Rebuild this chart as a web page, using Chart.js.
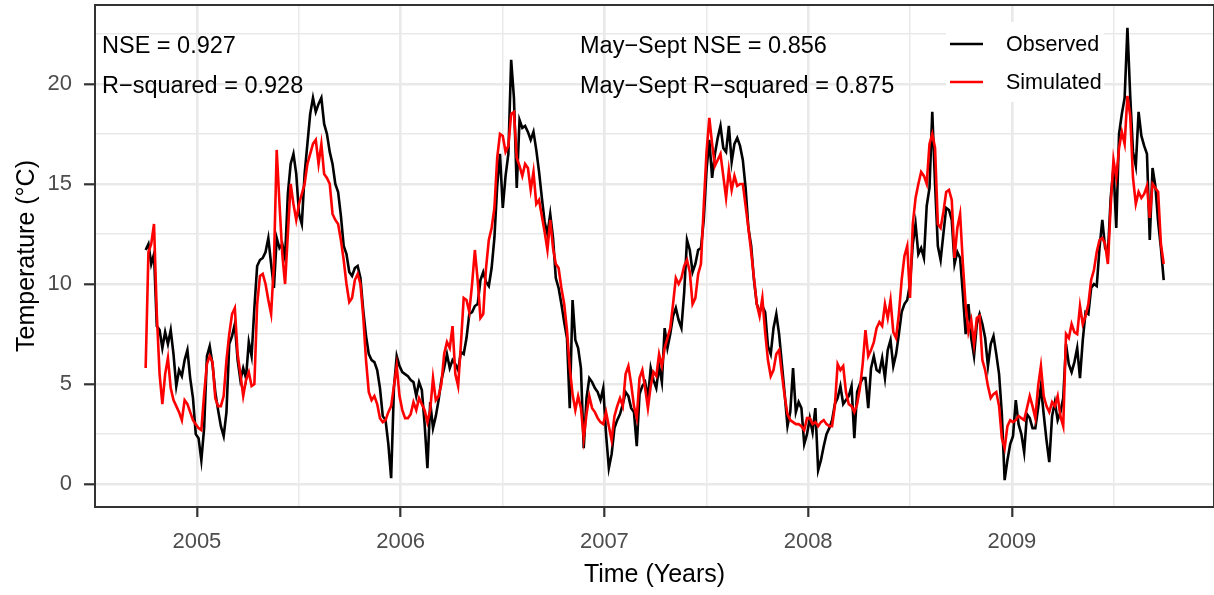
<!DOCTYPE html>
<html lang="en">
<head>
<meta charset="UTF-8">
<title>Observed vs simulated water temperature</title>
<style>
  html, body { margin: 0; padding: 0; background: #fff; }
</style>
</head>
<body>
<canvas id="chart" width="1214" height="595"></canvas>

<script src="https://cdn.jsdelivr.net/npm/chart.js"></script>
<script>
// one value every 5 days, 1 Oct 2004 .. 30 Sep 2009
const startDate = Date.UTC(2004, 9, 1);
const stepDays = 5;

const observed = [
  11.7, 12.0, 11.0, 11.5, 7.9, 7.7, 6.8, 7.6, 7.0, 7.7,
  6.5, 4.9, 5.7, 5.4, 6.2, 6.7, 5.3, 4.3, 2.5, 2.3,
  1.2, 2.8, 6.4, 6.9, 6.0, 4.6, 3.7, 2.9, 2.4, 3.6,
  7.0, 7.4, 8.0, 6.2, 5.2, 5.8, 5.3, 7.1, 6.4, 8.8,
  10.9, 11.2, 11.3, 11.6, 12.3, 11.0, 9.8, 12.3, 11.8, 12.0,
  11.3, 14.5, 16.0, 16.5, 15.5, 13.5, 13.0, 15.5, 17.0, 18.5,
  19.3, 18.6, 19.0, 19.3, 18.0, 17.5, 16.6, 16.0, 15.0, 14.6,
  13.4, 11.9, 11.5, 10.6, 10.4, 10.8, 10.9, 10.3, 8.7, 7.4,
  6.5, 6.2, 6.1, 5.7, 4.8, 3.4, 3.2, 2.0, 0.3, 4.8,
  6.4, 5.9, 5.6, 5.5, 5.4, 5.2, 5.1, 4.4, 5.1, 4.7,
  3.0, 0.8, 4.1, 2.8, 3.4, 4.2, 5.2, 5.8, 6.5, 5.8,
  6.2, 6.0, 5.7, 6.6, 6.5, 7.3, 8.5, 8.6, 8.9, 9.0,
  10.2, 10.6, 10.1, 9.9, 10.8, 12.3, 14.9, 16.5, 13.8, 15.4,
  16.5, 21.2, 19.3, 14.8, 18.2, 17.8, 17.9, 17.6, 17.2, 17.6,
  16.7, 15.6, 14.3, 13.1, 12.5, 13.5, 12.3, 10.3, 9.8, 9.0,
  8.1, 7.3, 3.8, 9.2, 7.2, 6.8, 5.8, 1.8, 4.3, 5.3,
  5.1, 4.8, 4.6, 4.2, 4.8, 2.5, 0.8, 1.5, 2.8, 3.2,
  3.5, 4.0, 4.6, 4.4, 3.8, 3.6, 1.9, 4.5, 4.9, 5.1,
  4.3, 5.8, 5.2, 4.8, 5.9, 5.1, 7.8, 6.8, 7.5, 8.4,
  8.8, 8.2, 7.8, 9.6, 12.2, 11.7, 10.6, 11.0, 11.7, 11.8,
  13.2, 15.7, 17.2, 15.3, 16.5, 17.3, 17.9, 16.8, 16.6, 17.9,
  16.1, 17.0, 17.3, 16.9, 16.2, 14.8, 12.8, 11.9, 10.2, 9.0,
  8.6, 8.9, 8.6, 6.9, 6.5, 7.8, 8.5, 7.5, 6.0, 4.5,
  2.9, 3.6, 5.8, 3.6, 4.1, 3.8, 2.0, 2.5, 3.3, 2.6,
  3.8, 0.7, 1.2, 1.9, 2.5, 2.8, 3.2, 4.0, 4.3, 4.9,
  4.0, 4.2, 4.4, 4.9, 2.3, 4.6, 5.0, 5.3, 5.3, 3.8,
  5.8, 6.4, 5.7, 5.6, 6.3, 5.3, 6.7, 7.2, 5.9, 6.5,
  7.5, 8.6, 9.0, 9.2, 10.0, 12.0, 13.0, 11.5, 11.8, 11.3,
  13.9, 14.8, 18.6, 15.0, 11.9, 11.2, 12.5, 13.8, 13.7, 13.2,
  11.0, 11.6, 11.3, 9.5, 7.5, 9.0, 7.3, 6.4, 8.0, 8.5,
  8.0, 7.3, 5.9, 7.0, 7.4, 6.5, 5.5, 3.5, 0.2, 1.2,
  2.0, 2.4, 4.2, 3.0, 2.5, 1.6, 3.5, 3.3, 2.8, 2.8,
  3.8, 4.9, 3.5, 2.2, 1.1, 3.4, 4.1, 3.2, 3.6, 4.3,
  7.0, 6.0, 5.6, 6.1, 6.8, 5.3, 7.2, 8.6, 8.5, 9.8,
  10.0, 9.9, 11.8, 13.2, 11.8, 11.5, 14.3, 15.8, 12.8, 17.5,
  18.5, 19.3, 22.8, 19.4, 16.6, 15.9, 18.6, 17.4, 16.9, 16.5,
  12.2, 15.8, 14.9, 13.1, 11.8, 10.2
];

const simulated = [
  5.8, 11.6, 12.0, 13.0, 8.5, 5.5, 4.0, 5.5, 6.3, 4.8,
  4.2, 3.9, 3.6, 3.2, 4.2, 4.0, 3.6, 3.2, 3.0, 2.8,
  2.7, 4.5, 6.0, 6.4, 6.1, 4.3, 3.9, 3.9, 4.4, 6.2,
  7.5, 8.5, 8.8, 6.5, 5.5, 4.4, 5.2, 5.6, 4.9, 5.0,
  9.0, 10.4, 10.5, 10.0, 9.2, 8.5, 11.0, 16.7, 14.0, 11.5,
  10.0, 12.5, 15.0, 14.0, 13.2, 14.0, 14.5, 15.0, 16.0, 16.5,
  17.0, 17.2, 16.0, 17.0, 15.5, 15.3, 15.0, 13.5, 13.2, 13.0,
  12.2, 11.2, 10.0, 9.1, 9.3, 10.2, 10.5, 10.0, 8.4, 6.2,
  4.6, 4.2, 4.4, 4.0, 3.3, 3.1, 3.2, 3.6, 3.9, 4.9,
  5.9, 4.4, 3.7, 3.3, 3.3, 3.5, 4.1, 3.7, 4.3, 4.0,
  3.7, 3.1, 3.7, 5.3, 4.2, 4.4, 5.0, 6.5, 7.1, 6.8,
  7.9, 5.5, 4.9, 7.0, 9.3, 9.2, 8.6, 10.0, 11.7, 10.2,
  8.3, 8.5, 10.8, 12.2, 12.8, 13.8, 16.3, 17.5, 17.4, 16.6,
  16.9, 18.5, 18.6, 16.3, 15.9, 15.4, 16.0, 15.8, 14.7, 15.6,
  14.0, 14.2, 13.4, 12.6, 11.7, 13.2, 11.8, 11.0, 10.8, 9.8,
  9.0, 7.7, 5.8, 4.5, 3.7, 4.4, 3.8, 2.3, 3.5, 4.4,
  3.8, 3.6, 3.3, 3.1, 3.0, 3.6, 2.9, 2.2, 3.4, 3.9,
  4.3, 3.9, 5.5, 5.9, 5.0, 3.9, 3.3, 5.3, 5.7, 4.8,
  3.8, 4.9, 5.6, 5.4, 6.5, 5.9, 6.8, 7.3, 7.8, 9.0,
  10.3, 10.0, 10.3, 10.9, 11.2, 10.6, 9.0, 9.3, 10.5, 11.0,
  13.9, 16.6, 18.3, 17.0, 15.9, 16.2, 16.5, 15.4, 14.3, 15.7,
  14.7, 15.4, 14.9, 15.0, 15.0, 13.9, 12.8, 11.6, 10.3, 9.0,
  8.4, 9.3, 7.6, 6.2, 5.4, 5.7, 6.5, 6.7, 5.5, 4.4,
  3.5, 3.2, 3.1, 3.0, 3.0, 2.9, 2.7, 3.3, 3.3, 3.0,
  3.1, 2.9, 3.1, 3.2, 3.0, 2.9, 2.9, 3.9, 6.0, 5.7,
  5.9, 4.6, 4.0, 3.9, 3.6, 4.0, 4.8, 6.0, 7.7, 6.4,
  6.7, 7.1, 7.8, 8.1, 7.9, 9.0, 8.3, 9.2, 7.6, 7.3,
  8.5, 10.2, 11.4, 11.9, 9.3, 13.0, 14.3, 15.0, 15.6, 15.4,
  15.0, 17.0, 17.5, 16.8, 13.0, 12.8, 13.6, 14.6, 14.7, 14.2,
  11.3, 12.8, 13.5, 11.0, 8.9, 7.6, 8.2, 7.0, 8.3, 8.4,
  6.2, 5.7, 4.9, 4.3, 4.5, 4.6, 3.9, 2.3, 1.8, 2.9,
  3.2, 3.1, 3.2, 3.4, 3.3, 3.2, 3.8, 4.4, 3.9, 3.3,
  4.9, 5.9, 4.4, 3.9, 3.6, 4.1, 3.9, 4.4, 3.4, 2.9,
  7.5, 7.3, 8.0, 7.6, 7.5, 8.9, 8.0, 8.4, 9.0, 10.2,
  10.7, 11.6, 12.2, 12.3, 12.0, 11.0, 13.9, 16.2, 15.3, 16.8,
  17.6, 17.0, 19.4, 18.4, 15.3, 14.0, 14.6, 14.3, 14.5, 14.9,
  13.3, 15.0, 14.8, 14.6, 12.0, 11.0
];

const yearTicks = [2005, 2006, 2007, 2008, 2009];
const tempTicks = [0, 5, 10, 15, 20];

const seriesNames = ['Observed', 'Simulated'];
const seriesColors = ['#000000', '#ff0000'];
const statsAll = ['NSE = 0.927', 'R\u2212squared = 0.928'];
const statsSummer = ['May\u2212Sept NSE = 0.856', 'May\u2212Sept R\u2212squared = 0.875'];

const FONT = "'Liberation Sans', Arial, Helvetica, sans-serif";
Chart.defaults.font.family = FONT;

// dates -> decimal years so the axis runs in years
function decimalYear(ms) {
  const y = new Date(ms).getUTCFullYear();
  const a = Date.UTC(y, 0, 1), b = Date.UTC(y + 1, 0, 1);
  return y + (ms - a) / (b - a);
}
const xs = observed.map((_, i) => decimalYear(startDate + i * stepDays * 86400000));

const toPoints = arr => arr.map((v, i) => ({ x: xs[i], y: v }));

const isMajorX = v => Number.isInteger(v);
const isMajorY = v => v % 5 === 0;

// panel box, stats text and the inside legend (ggplot style)
const decorations = {
  id: 'decorations',
  afterDatasetsDraw(chart) {
    const { ctx, chartArea: a } = chart;
    ctx.save();
    ctx.strokeStyle = '#333333';
    ctx.lineWidth = 2;
    ctx.strokeRect(a.left, a.top, a.right - a.left, a.bottom - a.top);
    ctx.restore();
  },
  afterDraw(chart) {
    const { ctx } = chart;
    ctx.save();
    ctx.fillStyle = '#000';
    ctx.font = '23.5px ' + FONT;
    ctx.textAlign = 'left';
    ctx.textBaseline = 'alphabetic';
    ctx.fillText(statsAll[0], 102, 52.5);
    ctx.fillText(statsAll[1], 102, 92.5);
    ctx.fillText(statsSummer[0], 580, 52.5);
    ctx.fillText(statsSummer[1], 580, 92.5);

    // legend
    ctx.fillStyle = '#fff';
    ctx.fillRect(946, 22, 158, 80);
    ctx.font = '21.5px ' + FONT;
    ctx.textBaseline = 'middle';
    [44, 82].forEach((y, k) => {
      ctx.strokeStyle = seriesColors[k];
      ctx.lineWidth = 2.5;
      ctx.beginPath();
      ctx.moveTo(950, y);
      ctx.lineTo(983, y);
      ctx.stroke();
      ctx.fillStyle = '#000';
      ctx.fillText(seriesNames[k], 1006, y + 1);
    });
    ctx.restore();
  }
};

new Chart(document.getElementById('chart'), {
  type: 'line',
  data: {
    datasets: [
      {
        label: seriesNames[0],
        data: toPoints(observed),
        borderColor: seriesColors[0],
        borderWidth: 2.6,
        pointRadius: 0,
        tension: 0,
        order: 1
      },
      {
        label: seriesNames[1],
        data: toPoints(simulated),
        borderColor: seriesColors[1],
        borderWidth: 2.6,
        pointRadius: 0,
        tension: 0,
        order: 0
      }
    ]
  },
  options: {
    responsive: false,
    animation: false,
    events: [],
    layout: { padding: { top: 5, left: 0, right: 0, bottom: 0 } },
    plugins: {
      legend: { display: false },
      tooltip: { enabled: false }
    },
    scales: {
      x: {
        type: 'linear',
        min: 2004.5,
        max: 2009.992,
        afterBuildTicks: s => {
          s.ticks = [];
          yearTicks.forEach(y => { s.ticks.push({ value: y }, { value: y + 0.5 }); });
        },
        afterFit: s => {
          s.height = 88;
          s.paddingLeft = 0;
          s.paddingRight = 0;
        },
        border: { display: false },
        grid: {
          color: '#e9e9e9',
          lineWidth: c => (c.tick && isMajorX(c.tick.value) ? 2.6 : 1.5),
          tickLength: 10,
          tickWidth: 2.2,
          tickColor: c => (c.tick && isMajorX(c.tick.value) ? '#333333' : 'rgba(0,0,0,0)')
        },
        ticks: {
          autoSkip: false,
          maxRotation: 0,
          padding: 12,
          color: '#4d4d4d',
          font: { size: 22 },
          callback: v => (isMajorX(v) ? String(v) : '')
        },
        title: {
          display: true,
          text: 'Time (Years)',
          color: '#000',
          font: { size: 25 },
          padding: { top: 0, bottom: 5 }
        }
      },
      y: {
        type: 'linear',
        min: -1.14,
        max: 23.94,
        afterBuildTicks: s => {
          s.ticks = [];
          tempTicks.forEach(v => { s.ticks.push({ value: v }, { value: v + 2.5 }); });
        },
        afterFit: s => {
          s.width = 95;
          s.paddingTop = 0;
          s.paddingBottom = 0;
        },
        border: { display: false },
        grid: {
          color: '#e9e9e9',
          lineWidth: c => (c.tick && isMajorY(c.tick.value) ? 2.6 : 1.5),
          tickLength: 11,
          tickWidth: 2.2,
          tickColor: c => (c.tick && isMajorY(c.tick.value) ? '#333333' : 'rgba(0,0,0,0)')
        },
        ticks: {
          autoSkip: false,
          padding: 12,
          color: '#4d4d4d',
          font: { size: 22 },
          callback: v => (isMajorY(v) ? String(v) : '')
        },
        title: {
          display: true,
          text: 'Temperature (\u00b0C)',
          color: '#000',
          font: { size: 25 },
          padding: { top: 12, bottom: 0 }
        }
      }
    }
  },
  plugins: [decorations]
});
</script>
</body>
</html>
